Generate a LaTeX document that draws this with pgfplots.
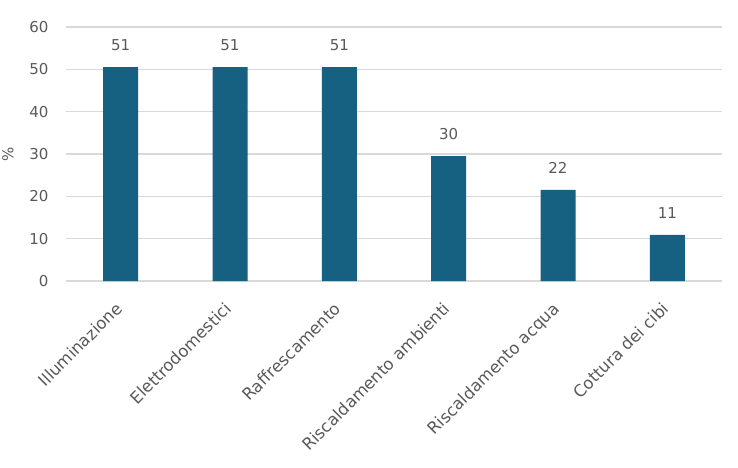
\documentclass[border=0pt]{standalone}
\usepackage{pgfplots}
\pgfplotsset{compat=1.18}
\usepackage{fontspec}
\setmainfont{DejaVu Sans}

\definecolor{barblue}{RGB}{22,96,130}
\definecolor{txtgray}{RGB}{89,89,89}
\definecolor{gridgray}{RGB}{217,217,217}

\begin{document}
\begin{tikzpicture}[x=1bp,y=1bp]
\useasboundingbox (-66bp,-187bp) rectangle (672bp,281bp);
\begin{axis}[
    at={(0,0)}, anchor=south west,
    scale only axis,
    width=656bp, height=254bp,
    ybar,
    bar width=35bp,
    xmin=-0.5, xmax=5.5,
    ymin=0, ymax=60,
    ytick={0,10,...,60},
    xtick=data,
    xticklabels={Illuminazione,Elettrodomestici,Raffrescamento,Riscaldamento ambienti,Riscaldamento acqua,Cottura dei cibi},
    xticklabel style={rotate=45, anchor=north east, inner sep=2bp, xshift=-16.5bp, yshift=-7.5bp,
        font=\fontsize{16.5bp}{18bp}\selectfont},
    axis line style={draw=none},
    major tick length=0pt,
    ymajorgrids,
    grid style={gridgray, line width=1.5bp},
    tick label style={text=txtgray},
    yticklabel style={xshift=-14bp, font=\fontsize{15bp}{17bp}\selectfont},
    /pgf/number format/assume math mode=true,
    ylabel={\%},
    every axis y label/.style={at={(-58bp,127bp)}, rotate=90, anchor=center,
        font=\fontsize{15bp}{17bp}\selectfont, text=txtgray},
    point meta=explicit symbolic,
    nodes near coords,
    nodes near coords style={font=\fontsize{15bp}{17bp}\selectfont, text=txtgray, yshift=13bp},
]
\addplot[fill=barblue, draw=none] table[meta=label] {
x y label
0 50.5 51
1 50.5 51
2 50.5 51
3 29.5 30
4 21.5 22
5 10.9 11
};
\end{axis}
\end{tikzpicture}
\end{document}
